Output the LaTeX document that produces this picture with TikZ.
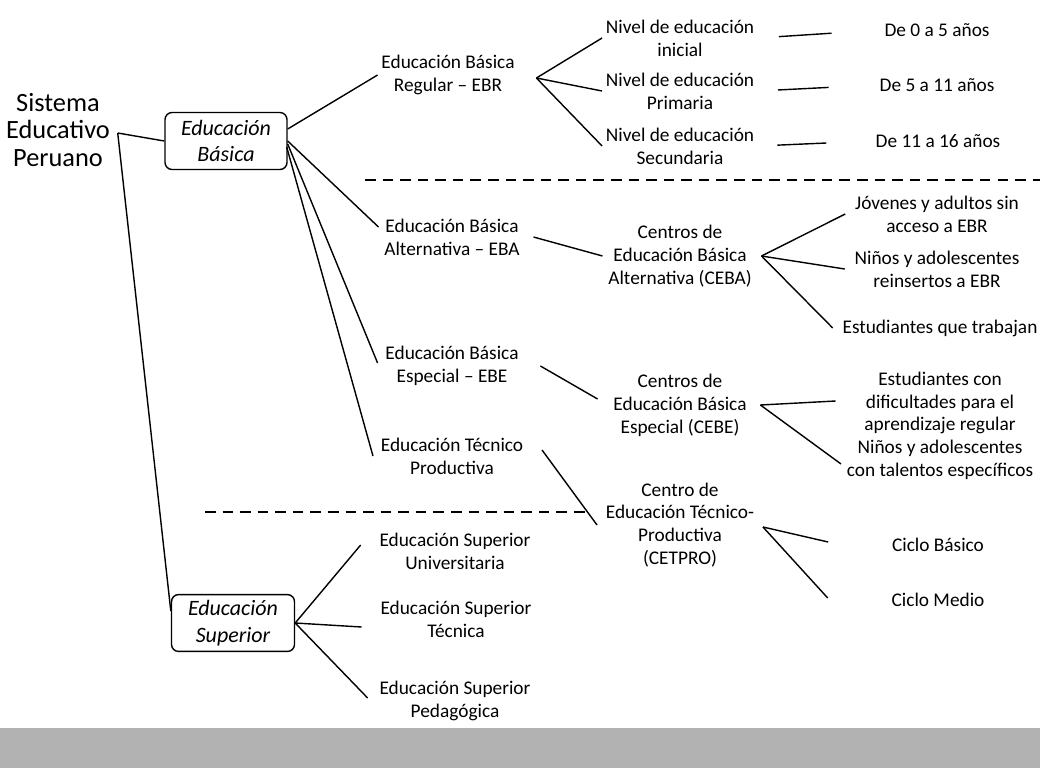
\documentclass[tikz,border=0pt]{standalone}
\usepackage{fontspec}
\setmainfont{Carlito}
\usetikzlibrary{calc}

\begin{document}
\begin{tikzpicture}[
  x=0.02cm, y=-0.02cm,
  txt/.style={align=center, inner sep=2pt, font=\fontsize{11}{13}\selectfont},
  cat/.style={draw, rounded corners=4pt, align=center, line width=0.8pt,
              font=\fontsize{12.5}{15}\selectfont\itshape},
  link/.style={line width=0.8pt},
  sep/.style={line width=1.1pt, dash pattern=on 6pt off 4pt}
]
\useasboundingbox (0,0) rectangle (1040,768);
% root and the two stages
\node[txt, font=\fontsize{15}{15.5}\selectfont] (sis) at (58,130) {Sistema\\Educativo\\Peruano};
\node[cat, minimum width=2.44cm, minimum height=1.14cm] (eb) at (226,141) {Educación\\Básica};
\node[cat, minimum width=2.46cm, minimum height=1.08cm] (es) at (233,623) {Educación\\Superior};
\coordinate (sj) at ($(sis.east)+(4,3)$);
% modalities
\node[txt] (ebr) at (448,75)  {Educación Básica\\Regular -- EBR};
\node[txt] (eba) at (452,237) {Educación Básica\\Alternativa -- EBA};
\node[txt] (ebe) at (452,366) {Educación Básica\\Especial -- EBE};
\node[txt] (etp) at (452,456) {Educación Técnico\\Productiva};
\node[txt] (esu) at (455,551) {Educación Superior\\Universitaria};
\node[txt] (est) at (456,619) {Educación Superior\\Técnica};
\node[txt] (esp) at (455,701) {Educación Superior\\Pedagógica};
% levels of EBR
\node[txt] (ini) at (680,38)  {Nivel de educación\\inicial};
\node[txt] (pri) at (680,91)  {Nivel de educación\\Primaria};
\node[txt] (sec) at (680,146) {Nivel de educación\\Secundaria};
\node[txt] (a1) at (937,30)  {De 0 a 5 años};
\node[txt] (a2) at (937,85)  {De 5 a 11 años};
\node[txt] (a3) at (938,141) {De 11 a 16 años};
% centres
\node[txt] (ceba) at (680,256) {Centros de\\Educación Básica\\Alternativa (CEBA)};
\node[txt] (cebe) at (680,405) {Centros de\\Educación Básica\\Especial (CEBE)};
\node[txt] (cet)  at (680,525) {Centro de\\Educación Técnico-\\Productiva\\(CETPRO)};
% who they serve
\node[txt] (jov) at (937,214) {Jóvenes y adultos sin\\acceso a EBR};
\node[txt] (rei) at (937,269) {Niños y adolescentes\\reinsertos a EBR};
\node[txt] (tra) at (940,328) {Estudiantes que trabajan};
\node[txt] (dif) at (940,403) {Estudiantes con\\dificultades para el\\aprendizaje regular};
\node[txt] (tal) at (940,460) {Niños y adolescentes\\con talentos específicos};
\node[txt] (cb) at (938,545) {Ciclo Básico};
\node[txt] (cm) at (938,600) {Ciclo Medio};

\draw[link] (sj) -- (eb.west);
\draw[link] (sj) -- ($(es.west)+(0,-12)$);
\draw[link] ($(eb.east)+(0,-12)$) -- (ebr.west);
\draw[link] (eb.east) -- ($(eba.west)+(-2,-10)$);
\draw[link] ($(eb.east)+(0,3)$) -- ($(ebe.west)+(-4,-3)$);
\draw[link] ($(eb.east)+(-1,6)$) -- ($(etp.west)+(-4,0)$);
\draw[link] (es.east) -- ($(esu.west)+(-15,-6)$);
\draw[link] (es.east) -- ($(est.west)+(-15,8)$);
\draw[link] (es.east) -- ($(esp.west)+(-8,-3)$);
% EBR branch
\coordinate (fr) at ($(ebr.east)+(18,3)$);
\foreach \n in {ini,pri,sec} \draw[link] (fr) -- (\n.west);
\draw[link] ($(ini.east)!0.17!(a1.west)$) -- ($(ini.east)!0.6!(a1.west)$);
\draw[link] ($(pri.east)!0.17!(a2.west)$) -- ($(pri.east)!0.6!(a2.west)$);
\draw[link] ($(sec.east)!0.17!(a3.west)$) -- ($(sec.east)!0.6!(a3.west)$);
% EBA branch
\draw[link] ($(eba.east)+(10,0)$) -- ($(ceba.west)+(-2,0)$);
\coordinate (fa) at ($(ceba.east)+(6,0)$);
\foreach \n in {jov,rei,tra} \draw[link] (fa) -- ($(\n.west)+(-6,0)$);
% EBE branch
\draw[link] ($(ebe.east)+(18,0)$) -- ($(cebe.west)+(-12,-6)$);
\coordinate (fe) at ($(cebe.east)+(10,0)$);
\draw[link] (fe) -- ($(dif.west)+(-25,-2)$);
\draw[link] (fe) -- ($(tal.west)+(-2,4)$);
% ETP branch
\draw[link] ($(etp.east)+(15,-6)$) -- ($(cet.west)+(-5,0)$);
\coordinate (ft) at ($(cet.east)+(5,2)$);
\draw[link] (ft) -- ($(cb.west)+(-60,-3)$);
\draw[link] (ft) -- ($(cm.west)+(-60,-2)$);
% separators and band
\draw[sep] (365,180) -- (1040,180);
\draw[sep] (205,512) -- (590,512);
\fill[black!30] (0,728) rectangle (1040,768);
\end{tikzpicture}
\end{document}
